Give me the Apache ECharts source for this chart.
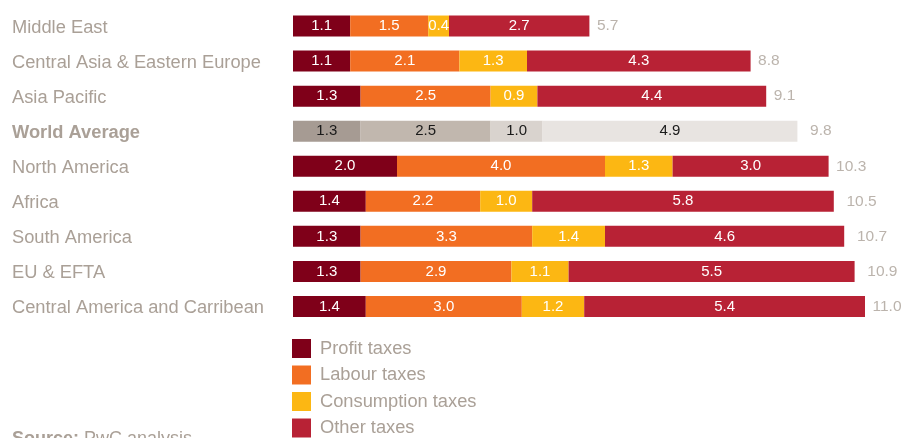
<!DOCTYPE html>
<html>
<head>
<meta charset="utf-8">
<script src="https://cdn.jsdelivr.net/npm/echarts@6/dist/echarts.min.js"></script>
<style>
  html, body { margin: 0; padding: 0; background: #fff; }
  #chart { width: 903px; height: 438px; }
</style>
</head>
<body>
<div id="chart"></div>
<script>
const regions = [
  "Middle East",
  "Central Asia & Eastern Europe",
  "Asia Pacific",
  "World Average",
  "North America",
  "Africa",
  "South America",
  "EU & EFTA",
  "Central America and Carribean"
];
const profitTaxes = [1.1, 1.1, 1.3, 1.3, 2.0, 1.4, 1.3, 1.3, 1.4];
const labourTaxes = [1.5, 2.1, 2.5, 2.5, 4.0, 2.2, 3.3, 2.9, 3.0];
const consumptionTaxes = [0.4, 1.3, 0.9, 1.0, 1.3, 1.0, 1.4, 1.1, 1.2];
const otherTaxes = [2.7, 4.3, 4.4, 4.9, 3.0, 5.8, 4.6, 5.5, 5.4];
const totals = [5.7, 8.8, 9.1, 9.8, 10.3, 10.5, 10.7, 10.9, 11.0];

const worldIdx = regions.indexOf("World Average");
const FONT = "Liberation Sans, Arial, Helvetica, sans-serif";
const GREY = "#aaa097";

// world average row is drawn in greys
const greys = ["#a69b93", "#c1b7ae", "#d9d3ce", "#e8e4e1"];

function makeSeries(name, values, color, k) {
  return {
    name: name,
    type: "bar",
    stack: "total",
    barWidth: 21,
    itemStyle: { color: color },
    label: {
      show: true,
      position: "inside",
      color: "#fff",
      fontFamily: FONT,
      fontSize: 15,
      formatter: p => p.value.toFixed(1)
    },
    data: values.map((v, i) => i === worldIdx
      ? { value: v, itemStyle: { color: greys[k] }, label: { color: "#1a1a1a" } }
      : v)
  };
}

const chart = echarts.init(document.getElementById("chart"));

chart.setOption({
  animation: false,
  grid: { left: 293, top: 8.5, height: 315.5, width: 598 },
  xAxis: {
    type: "value",
    min: 0,
    max: 11.5,
    show: false
  },
  yAxis: {
    type: "category",
    data: regions,
    inverse: true,
    axisLine: { show: false },
    axisTick: { show: false },
    axisLabel: {
      align: "left",
      margin: 281,
      color: GREY,
      fontFamily: FONT,
      fontSize: 18.3,
      padding: [3, 0, 0, 0],
      formatter: v => v === "World Average" ? "{b|" + v + "}" : v,
      rich: { b: { fontWeight: "bold", color: GREY, fontFamily: FONT, fontSize: 18.3 } }
    }
  },
  legend: {
    orient: "vertical",
    left: 292,
    top: 339,
    padding: 0,
    height: 120,
    itemWidth: 19,
    itemHeight: 19,
    itemGap: 7.5,
    icon: "rect",
    textStyle: { color: GREY, fontFamily: FONT, fontSize: 18.3, padding: [2, 0, 0, 4] },
    data: ["Profit taxes", "Labour taxes", "Consumption taxes", "Other taxes"]
  },
  series: [
    makeSeries("Profit taxes", profitTaxes, "#7f0019", 0),
    makeSeries("Labour taxes", labourTaxes, "#f26e22", 1),
    makeSeries("Consumption taxes", consumptionTaxes, "#fcb713", 2),
    makeSeries("Other taxes", otherTaxes, "#b82235", 3),
    {
      name: "Total",
      type: "scatter",
      symbolSize: 1,
      itemStyle: { color: "rgba(0,0,0,0)" },
      label: {
        show: true,
        position: "right",
        distance: 7,
        color: GREY,
        fontFamily: FONT,
        fontSize: 15.5,
        formatter: p => p.value[0].toFixed(1)
      },
      data: totals.map((t, i) => [t, i])
    }
  ],
  graphic: [{
    type: "text",
    left: 12,
    top: 430,
    style: {
      text: "{b|Source:} PwC analysis",
      fill: GREY,
      font: "18px " + FONT,
      rich: { b: { fontWeight: "bold", fill: GREY, fontSize: 18, fontFamily: FONT } }
    }
  }]
});
</script>
</body>
</html>
